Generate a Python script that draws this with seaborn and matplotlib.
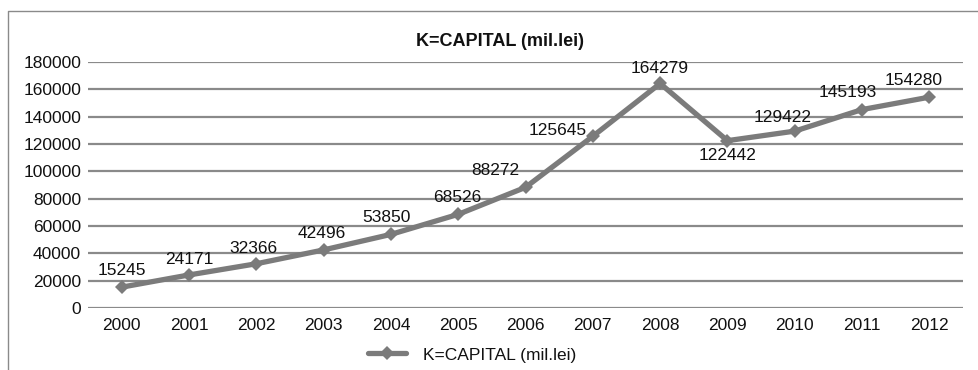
import matplotlib
matplotlib.use("Agg")
import matplotlib.pyplot as plt
from matplotlib.lines import Line2D
import seaborn as sns
import pandas as pd

# Data
years = ["2000", "2001", "2002", "2003", "2004", "2005", "2006",
         "2007", "2008", "2009", "2010", "2011", "2012"]
capital = [15245, 24171, 32366, 42496, 53850, 68526, 88272,
           125645, 164279, 122442, 129422, 145193, 154280]
series_name = "K=CAPITAL (mil.lei)"

# label offsets (points) relative to each marker
label_dx = [0, 0, -2, -1, -3, -1, -22, -25, 0, 0, -9, -10, -11]
label_dy = [12, 11, 11, 12, 12, 12, 12, 4, 11, -11, 10, 12, 12]

sns.set_style("white")
plt.rcParams["font.family"] = ["Liberation Sans", "DejaVu Sans"]

line_col = "#7b7b7b"
grid_col = "#8a8a8a"
text_col = "#111111"

df = pd.DataFrame({"year": years, "capital": capital})

fig = plt.figure(figsize=(9.79, 3.70), dpi=100)
ax = fig.add_axes([88 / 979, 1 - 308 / 370, (963 - 88) / 979, (308 - 62) / 370])

sns.lineplot(data=df, x="year", y="capital", ax=ax, color=line_col,
             linewidth=3.8, marker="D", markersize=7, markeredgewidth=0,
             label=series_name, legend=False, zorder=3)

ax.set_xlim(-0.5, len(years) - 0.5)
ax.set_ylim(0, 180000)
ax.set_yticks(range(0, 180001, 20000))
ax.yaxis.grid(True, color=grid_col, linewidth=1.6)
ax.set_axisbelow(True)
for s in ax.spines.values():
    s.set_visible(False)
ax.tick_params(axis="both", length=0, labelsize=12.5, colors=text_col)
ax.tick_params(axis="y", pad=5)
ax.tick_params(axis="x", pad=7)
ax.set_xlabel("")
ax.set_ylabel("")

for i, v in enumerate(capital):
    ax.annotate(str(v), xy=(i, v), xytext=(label_dx[i], label_dy[i]),
                textcoords="offset points", ha="center", va="center",
                fontsize=12.5, color=text_col, zorder=4)

fig.text(500 / 979, 1 - 42 / 370, series_name, ha="center", va="center",
         fontsize=13, fontweight="bold", color=text_col)

handle = Line2D([], [], color=line_col, linewidth=3.8, marker="D",
                markersize=7, markeredgewidth=0)
fig.legend([handle], [series_name], loc="center",
           bbox_to_anchor=(472 / 979, 1 - 355 / 370), frameon=False,
           fontsize=12.5, handlelength=2.2, handletextpad=1.0,
           labelcolor=text_col)

# chart area border (left and top visible)
bx = 8 / 979
by = 1 - 11 / 370
fig.add_artist(Line2D([bx, bx, 1.0], [0.0, by, by], transform=fig.transFigure,
                      color="#8a8a8a", linewidth=1.0))

fig.savefig("out.png", dpi=100, facecolor="white")
